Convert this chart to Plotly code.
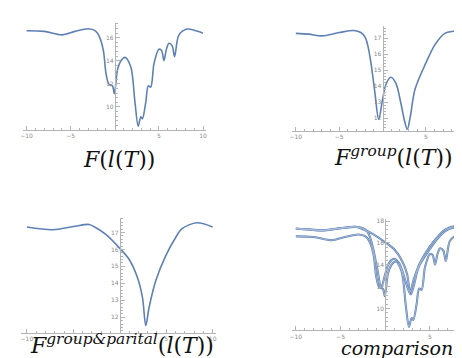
import plotly.graph_objects as go

# ---------------- data ----------------
f_x = [-10, -8, -6, -4.5, -3, -2.2, -1.75, -1.3, -1.0, -0.7, -0.5, -0.25, -0.05, 0.3, 0.7,
       1.15, 1.8, 2.3, 2.65, 2.95, 3.13, 3.5, 3.8, 4.07, 4.45, 5.0, 5.3, 5.57, 5.85, 6.14,
       6.5, 6.78, 7.26, 8.2, 9.0, 10]
f_y = [16.6, 16.55, 16.25, 16.55, 16.78, 16.6, 16.1, 14.9, 12.9, 12.0, 11.9, 11.8, 11.15, 13.2, 14.0,
       14.3, 13.5, 10.3, 8.33, 9.14, 8.97, 10.35, 11.84, 11.72, 13.8, 15.0, 14.9, 14.02, 15.0, 15.52,
       15.3, 14.36, 16.23, 16.75, 16.65, 16.4]

group_x = [-10, -8.5, -7, -5, -3.3, -2.5, -2.0, -1.72, -1.34, -0.88, -0.45, 0, 0.38, 0.95, 1.52,
           2.1, 2.5, 2.85, 3.2, 3.74, 5.0, 6.03, 7.18, 8.0, 9.0, 10]
group_y = [17.3, 17.25, 17.14, 17.35, 17.48, 17.35, 17.05, 16.58, 15.45, 13.58, 11.92, 13.16, 14.1, 14.55, 14.2,
           12.96, 11.9, 11.3, 12.1, 13.8, 15.45, 16.58, 17.3, 17.42, 17.42, 17.38]

gp_x = [-10, -7.2, -5, -3.3, -2.7, -1.5, 0, 1.0, 1.9, 2.44, 2.8, 3.16, 3.87, 4.94, 6.0, 6.7, 8.3, 10]
gp_y = [17.32, 17.16, 17.35, 17.47, 17.32, 16.88, 16.06, 15.42, 14.34, 13.17, 11.51, 12.59, 14.15,
        15.62, 16.69, 17.22, 17.57, 17.32]

x_ticks = [-10, -5, 5, 10]
y_ticks_1 = [10, 12, 14, 16]
y_ticks_2 = [12, 13, 14, 15, 16, 17]
y_ticks_3 = [12, 13, 14, 15, 16, 17]
y_ticks_4 = [10, 12, 14, 16, 18]

captions = [
    "<i>F</i>(<i>l</i>(<i>T</i>))",
    "<i>F</i><sup><i>group</i></sup>(<i>l</i>(<i>T</i>))",
    "<i>F</i><sup><i>group&amp;parital</i></sup>(<i>l</i>(<i>T</i>))",
    "<i>comparison</i>",
]

# ---------------- layout helpers ----------------
W, H = 462, 358
BLUE = "#5E81B5"
AXC = "#b4b4b4"
TXC = "#8a8a8a"

panels = [
    dict(x0=105.5, sx=8.88, xr=[-10.45, 10.35], yref_px=120.7, yref=8.0, sy=11.6, yr=[8.0, 17.3],
         yt=y_ticks_1, ymin=0.4, cap=(110, 150), cs=22),
    dict(x0=375.0, sx=8.73, xr=[-10.45, 9.966], yref_px=108.7, yref=12.0, sy=16.08, yr=[11.19, 17.78],
         yt=y_ticks_2, ymin=0.2, cap=(386, 147), cs=22),
    dict(x0=110.5, sx=9.35, xr=[-10.6, 10.4], yref_px=309.0, yref=12.0, sy=17.06, yr=[11.08, 17.86],
         yt=y_ticks_3, ymin=0.2, cap=(113, 336), cs=22),
    dict(x0=377.7, sx=9.0, xr=[-10.45, 9.37], yref_px=300.3, yref=10.0, sy=11.0, yr=[8.0, 18.15],
         yt=y_ticks_4, ymin=0.4, cap=(390, 340), cs=19),
]

fig = go.Figure()
layout = dict(width=W, height=H, margin=dict(l=0, r=0, t=0, b=0),
              paper_bgcolor="white", plot_bgcolor="white", showlegend=False)
annotations = []

for i, p in enumerate(panels):
    n = "" if i == 0 else str(i + 1)
    xl = p["x0"] + p["xr"][0] * p["sx"]
    xr = p["x0"] + p["xr"][1] * p["sx"]
    yb = p["yref_px"] + (p["yref"] - p["yr"][0]) * p["sy"]
    yt = p["yref_px"] - (p["yr"][1] - p["yref"]) * p["sy"]
    xdom = [max(0, xl / W), min(1, xr / W)]
    ydom = [max(0, 1 - yb / H), min(1, 1 - yt / H)]
    layout["xaxis" + n] = dict(
        domain=xdom, range=p["xr"], anchor="y" + n, showgrid=False, zeroline=False,
        showline=True, linecolor=AXC, linewidth=1,
        tickmode="array", tickvals=x_ticks, ticks="inside", ticklen=4, tickcolor=AXC,
        tickfont=dict(size=6, color=TXC, family="DejaVu Sans"),
        minor=dict(tickmode="array", tickvals=[v for v in range(-10, 11) if v % 5 != 0],
                   ticks="inside", ticklen=2, tickcolor=AXC, showgrid=False),
    )
    ymin_ticks = []
    step = p["ymin"]
    t = int(p["yt"][0] // 1) - 2
    while t <= p["yr"][1]:
        if t >= p["yr"][0] and all(abs(t - m) > 1e-6 for m in p["yt"]):
            ymin_ticks.append(round(t, 3))
        t = round(t + step, 6)
    layout["yaxis" + n] = dict(
        domain=ydom, range=p["yr"], anchor="free", position=p["x0"] / W,
        showgrid=False, zeroline=False, showline=True, linecolor=AXC, linewidth=1,
        tickmode="array", tickvals=p["yt"], ticks="inside", ticklen=4, tickcolor=AXC,
        tickfont=dict(size=6, color=TXC, family="DejaVu Sans"),
        minor=dict(tickmode="array", tickvals=ymin_ticks, ticks="inside", ticklen=2,
                   tickcolor=AXC, showgrid=False),
    )
    cx, cy = p["cap"]
    annotations.append(dict(
        text=captions[i], x=cx / W, y=1 - cy / H, xref="paper", yref="paper",
        xanchor="center", yanchor="middle", showarrow=False,
        font=dict(family="DejaVu Serif", size=p["cs"], color="#111111"),
    ))

layout["annotations"] = annotations
fig.update_layout(**layout)

series = [(f_x, f_y), (group_x, group_y), (gp_x, gp_y)]
line_kw = dict(shape="spline", smoothing=0.9)

fig.add_trace(go.Scatter(x=f_x, y=f_y, mode="lines", xaxis="x", yaxis="y",
                         line=dict(color=BLUE, width=1.6, **line_kw)))
fig.add_trace(go.Scatter(x=group_x, y=group_y, mode="lines", xaxis="x2", yaxis="y2",
                         line=dict(color=BLUE, width=1.6, **line_kw)))
fig.add_trace(go.Scatter(x=gp_x, y=gp_y, mode="lines", xaxis="x3", yaxis="y3",
                         line=dict(color=BLUE, width=1.6, **line_kw)))
for sx_, sy_ in series:
    fig.add_trace(go.Scatter(x=sx_, y=sy_, mode="lines", xaxis="x4", yaxis="y4",
                             line=dict(color=BLUE, width=2.1, **line_kw)))
for sx_, sy_ in series:
    fig.add_trace(go.Scatter(x=sx_, y=sy_, mode="lines", xaxis="x4", yaxis="y4",
                             line=dict(color="#cfdbed", width=0.6, **line_kw)))

fig.write_html("out.html")
